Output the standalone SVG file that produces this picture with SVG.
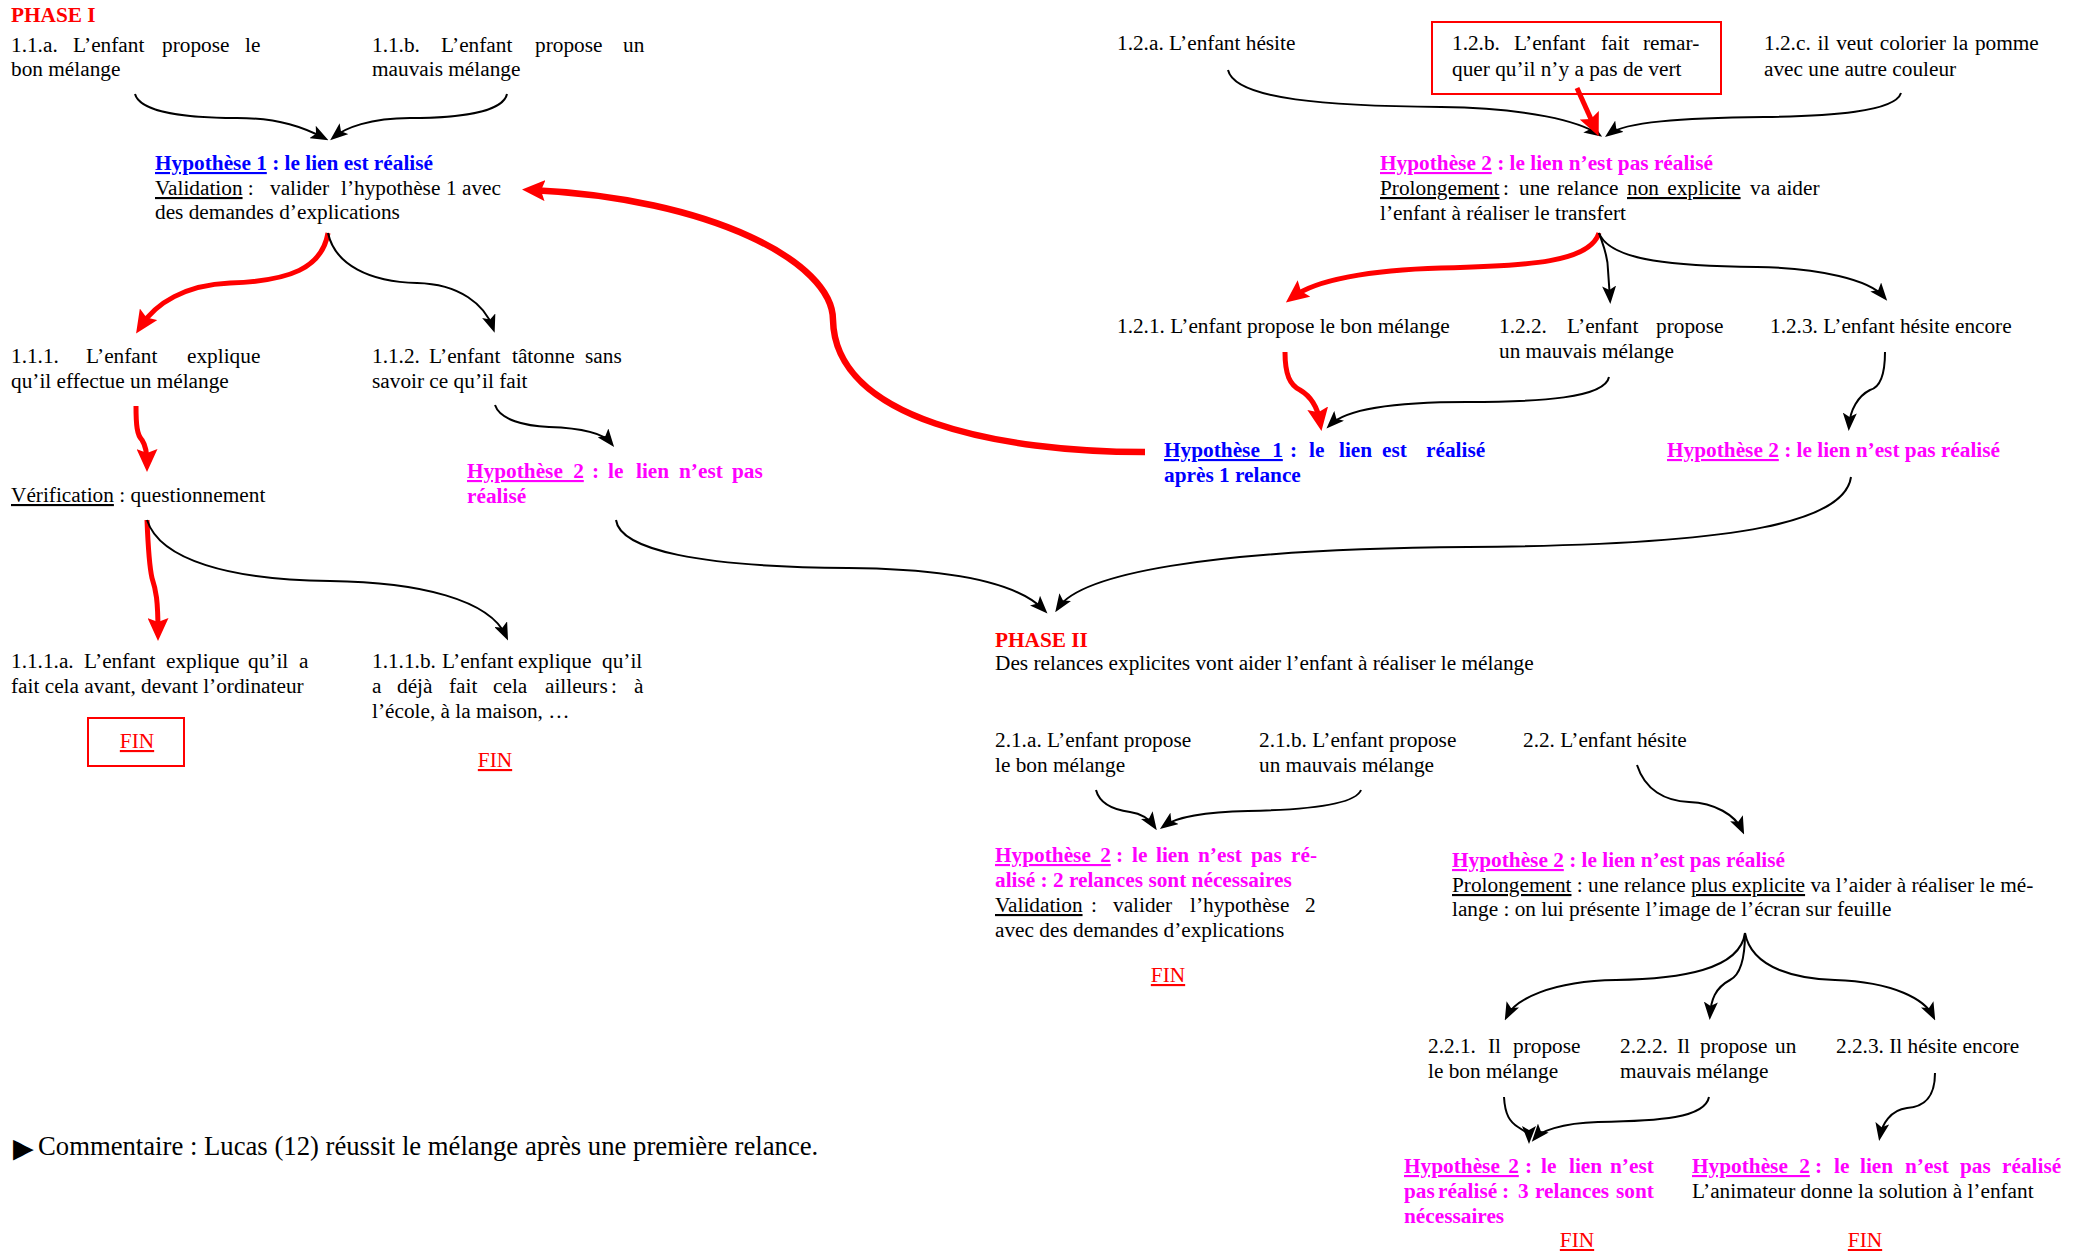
<svg xmlns="http://www.w3.org/2000/svg" width="2092" height="1251" viewBox="0 0 2092 1251">
<style>
.t{font-family:"Liberation Serif","Times New Roman",serif;font-size:21.3px;fill:#000}
.b{font-weight:bold}
.red{fill:#f00}.blue{fill:#00f}.mag{fill:#f0f}
.u{text-decoration:underline}
.fin{fill:#f00;text-decoration:underline;text-anchor:middle}
.box{fill:none;stroke:#f00;stroke-width:2}
.c{fill:none;stroke:#000;stroke-width:2;marker-end:url(#ab)}
.r{fill:none;stroke:#f00;stroke-width:5;marker-end:url(#ar)}
.rb{fill:none;stroke:#f00;stroke-width:6.5;marker-end:url(#ar)}
</style>
<defs>
<marker id="ab" markerUnits="userSpaceOnUse" markerWidth="18" markerHeight="14" viewBox="0 0 18 14" refX="13" refY="7" orient="auto"><path d="M0,0 L18,7 L0,14 L4,7 z" fill="#000"/></marker>
<marker id="ar" markerUnits="userSpaceOnUse" markerWidth="23" markerHeight="21" viewBox="0 0 23 21" refX="14" refY="10.5" orient="auto"><path d="M0,0 L23,10.5 L0,21 L4,10.5 z" fill="#f00"/></marker>
</defs>
<rect width="2092" height="1251" fill="#fff"/>

<g id="connectors">
<path class="c" d="M135,94 C140,112 185,118 237,118 C280,118 305,128 324,138"/>
<path class="c" d="M507,94 C503,112 460,118 410,118 C370,118 345,128 334,137"/>
<path class="r" d="M328,233 C322,268 290,281 230,283 C185,285 156,303 141,326"/>
<path class="c" d="M328,233 C335,265 370,282 417,283 C460,284 485,305 493,328"/>
<path class="r" d="M136,406 C136,425 137,435 142,440 C146,446 147,452 147,463"/>
<path class="r" d="M147,520 C148,545 149,565 152,578 C156,590 158,600 158,632"/>
<path class="c" d="M147,520 C160,560 230,580 330,581 C420,582 490,600 506,636"/>
<path class="c" d="M495,405 C500,420 525,426 549,427 C580,428 603,433 611,443"/>
<path class="c" d="M616,520 C620,550 700,567 848,568 C960,569 1020,585 1044,610"/>
<path class="c" d="M1851,477 C1845,520 1750,545 1468,547 C1200,549 1080,575 1058,608"/>
<path class="rb" d="M1145,452 C1000,452 835,420 833,320 C833,262 710,198 531,190"/>
<path class="c" d="M1228,70 C1235,100 1330,106 1441,107 C1530,108 1580,122 1598,134"/>
<path class="c" d="M1901,93 C1895,112 1830,116 1764,117 C1680,118 1625,122 1609,134"/>
<path class="r" d="M1577,88 L1595,128"/>
<path class="r" d="M1599,233 C1590,262 1530,266 1441,268 C1370,270 1315,280 1293,297"/>
<path class="c" d="M1599,233 C1603,245 1608,255 1608,270 L1610,299"/>
<path class="c" d="M1599,233 C1610,262 1680,266 1757,267 C1820,268 1870,280 1884,297"/>
<path class="r" d="M1285,352 C1285,375 1290,385 1300,390 C1312,397 1318,410 1320,422"/>
<path class="c" d="M1609,377 C1605,398 1540,402 1467,402 C1390,402 1345,410 1330,425"/>
<path class="c" d="M1885,352 C1885,380 1878,388 1870,390 C1858,396 1850,410 1849,426"/>
<path class="c" d="M1096,790 C1100,805 1115,810 1130,812 C1143,814 1150,820 1154,826"/>
<path class="c" d="M1361,790 C1355,806 1300,810 1248,811 C1200,812 1175,818 1164,826"/>
<path class="c" d="M1637,765 C1645,790 1665,801 1689,802 C1715,803 1735,815 1742,830"/>
<path class="c" d="M1745,933 C1740,970 1680,979 1616,980 C1550,981 1515,1000 1507,1016"/>
<path class="c" d="M1745,933 C1745,960 1740,975 1730,980 C1715,988 1711,1000 1710,1015"/>
<path class="c" d="M1745,933 C1752,970 1800,979 1835,980 C1895,982 1925,1000 1933,1016"/>
<path class="c" d="M1504,1097 C1505,1115 1510,1122 1518,1127 C1526,1132 1529,1134 1529,1139"/>
<path class="c" d="M1709,1097 C1705,1118 1660,1121 1598,1122 C1560,1123 1540,1132 1535,1138"/>
<path class="c" d="M1935,1073 C1935,1100 1922,1107 1907,1108 C1890,1110 1882,1125 1880,1136"/>
</g>

<g id="n-phase1"><text class="t b red" x="11" y="22">PHASE I</text></g>

<g id="n-11a">
<text class="t" y="52"><tspan x="11">1.1.a.</tspan><tspan x="73">L’enfant</tspan><tspan x="162">propose</tspan><tspan x="245">le</tspan></text>
<text class="t" x="11" y="76">bon mélange</text>
</g>
<g id="n-11b">
<text class="t" y="52"><tspan x="372">1.1.b.</tspan><tspan x="441">L’enfant</tspan><tspan x="535">propose</tspan><tspan x="623">un</tspan></text>
<text class="t" x="372" y="76">mauvais mélange</text>
</g>

<g id="n-hyp1">
<text class="t b blue" x="155" y="170"><tspan class="u">Hypothèse 1</tspan> : le lien est réalisé</text>
<text class="t" y="195"><tspan x="155" class="u">Validation</tspan><tspan> :</tspan><tspan x="270">valider</tspan><tspan x="341">l’hypothèse</tspan><tspan x="446">1</tspan><tspan x="462">avec</tspan></text>
<text class="t" x="155" y="219">des demandes d’explications</text>
</g>

<g id="n-111">
<text class="t" y="363"><tspan x="11">1.1.1.</tspan><tspan x="86">L’enfant</tspan><tspan x="187">explique</tspan></text>
<text class="t" x="11" y="388">qu’il effectue un mélange</text>
</g>
<g id="n-112">
<text class="t" y="363"><tspan x="372">1.1.2.</tspan><tspan x="429">L’enfant</tspan><tspan x="512">tâtonne</tspan><tspan x="585">sans</tspan></text>
<text class="t" x="372" y="388">savoir ce qu’il fait</text>
</g>

<g id="n-verif"><text class="t" x="11" y="502"><tspan class="u">Vérification</tspan> : questionnement</text></g>

<g id="n-hyp2a">
<text class="t b mag" y="478"><tspan x="467" class="u" style="word-spacing:5px">Hypothèse 2</tspan><tspan x="592">:</tspan><tspan x="608">le</tspan><tspan x="636">lien</tspan><tspan x="679">n’est</tspan><tspan x="732">pas</tspan></text>
<text class="t b mag" x="467" y="503">réalisé</text>
</g>

<g id="n-111a">
<text class="t" y="668"><tspan x="11">1.1.1.a.</tspan><tspan x="84">L’enfant</tspan><tspan x="166">explique</tspan><tspan x="248">qu’il</tspan><tspan x="299">a</tspan></text>
<text class="t" x="11" y="693">fait cela avant, devant l’ordinateur</text>
<rect class="box" x="88" y="718" width="96" height="48"/>
<text class="t fin" x="137" y="748">FIN</text>
</g>
<g id="n-111b">
<text class="t" y="668"><tspan x="372">1.1.1.b.</tspan><tspan x="442">L’enfant</tspan><tspan x="518">explique</tspan><tspan x="602">qu’il</tspan></text>
<text class="t" y="693"><tspan x="372">a</tspan><tspan x="397">déjà</tspan><tspan x="449">fait</tspan><tspan x="493">cela</tspan><tspan x="545">ailleurs</tspan><tspan x="611">:</tspan><tspan x="634">à</tspan></text>
<text class="t" x="372" y="718">l’école, à la maison, …</text>
<text class="t fin" x="495" y="767">FIN</text>
</g>

<g id="n-12a"><text class="t" x="1117" y="50">1.2.a. L’enfant hésite</text></g>
<g id="n-12b">
<rect class="box" x="1432" y="22" width="289" height="72"/>
<text class="t" y="50"><tspan x="1452">1.2.b.</tspan><tspan x="1514">L’enfant</tspan><tspan x="1601">fait</tspan><tspan x="1643">remar-</tspan></text>
<text class="t" x="1452" y="76">quer qu’il n’y a pas de vert</text>
</g>
<g id="n-12c">
<text class="t" x="1764" y="50" style="word-spacing:1.5px">1.2.c. il veut colorier la pomme</text>
<text class="t" x="1764" y="76">avec une autre couleur</text>
</g>

<g id="n-hyp2b">
<text class="t b mag" x="1380" y="170"><tspan class="u">Hypothèse 2</tspan> : le lien n’est pas réalisé</text>
<text class="t" y="195"><tspan x="1380" class="u">Prolongement</tspan><tspan x="1503">:</tspan><tspan x="1519">une</tspan><tspan x="1557">relance</tspan><tspan x="1627" class="u" style="word-spacing:3px">non explicite</tspan><tspan x="1750">va</tspan><tspan x="1777">aider</tspan></text>
<text class="t" x="1380" y="220">l’enfant à réaliser le transfert</text>
</g>

<g id="n-121"><text class="t" x="1117" y="333">1.2.1. L’enfant propose le bon mélange</text></g>
<g id="n-122">
<text class="t" y="333"><tspan x="1499">1.2.2.</tspan><tspan x="1567">L’enfant</tspan><tspan x="1656">propose</tspan></text>
<text class="t" x="1499" y="358">un mauvais mélange</text>
</g>
<g id="n-123"><text class="t" x="1770" y="333">1.2.3. L’enfant hésite encore</text></g>

<g id="n-hyp1b">
<text class="t b blue" y="457"><tspan x="1164" class="u" style="word-spacing:7px">Hypothèse 1</tspan><tspan x="1290">:</tspan><tspan x="1309">le</tspan><tspan x="1339">lien</tspan><tspan x="1382">est</tspan><tspan x="1426">réalisé</tspan></text>
<text class="t b blue" x="1164" y="482">après 1 relance</text>
</g>
<g id="n-hyp2c"><text class="t b mag" x="1667" y="457"><tspan class="u">Hypothèse 2</tspan> : le lien n’est pas réalisé</text></g>

<g id="n-phase2">
<text class="t b red" x="995" y="647">PHASE II</text>
<text class="t" x="995" y="670">Des relances explicites vont aider l’enfant à réaliser le mélange</text>
</g>

<g id="n-21a">
<text class="t" x="995" y="747">2.1.a. L’enfant propose</text>
<text class="t" x="995" y="772">le bon mélange</text>
</g>
<g id="n-21b">
<text class="t" x="1259" y="747">2.1.b. L’enfant propose</text>
<text class="t" x="1259" y="772">un mauvais mélange</text>
</g>
<g id="n-22"><text class="t" x="1523" y="747">2.2. L’enfant hésite</text></g>

<g id="n-hyp2d">
<text class="t b mag" y="862"><tspan x="995" class="u" style="word-spacing:4px">Hypothèse 2</tspan><tspan x="1116">:</tspan><tspan x="1132">le</tspan><tspan x="1156">lien</tspan><tspan x="1198">n’est</tspan><tspan x="1251">pas</tspan><tspan x="1291">ré-</tspan></text>
<text class="t b mag" x="995" y="887">alisé : 2 relances sont nécessaires</text>
<text class="t" y="912"><tspan x="995" class="u">Validation</tspan><tspan x="1091">:</tspan><tspan x="1113">valider</tspan><tspan x="1190">l’hypothèse</tspan><tspan x="1305">2</tspan></text>
<text class="t" x="995" y="937">avec des demandes d’explications</text>
<text class="t fin" x="1168" y="982">FIN</text>
</g>

<g id="n-hyp2e">
<text class="t b mag" x="1452" y="867"><tspan class="u">Hypothèse 2</tspan> : le lien n’est pas réalisé</text>
<text class="t" x="1452" y="892"><tspan class="u">Prolongement</tspan> : une relance <tspan class="u">plus explicite</tspan> va l’aider à réaliser le mé-</text>
<text class="t" x="1452" y="916">lange : on lui présente l’image de l’écran sur feuille</text>
</g>

<g id="n-221">
<text class="t" y="1053"><tspan x="1428">2.2.1.</tspan><tspan x="1488">Il</tspan><tspan x="1513">propose</tspan></text>
<text class="t" x="1428" y="1078">le bon mélange</text>
</g>
<g id="n-222">
<text class="t" y="1053"><tspan x="1620">2.2.2.</tspan><tspan x="1677">Il</tspan><tspan x="1700">propose</tspan><tspan x="1775">un</tspan></text>
<text class="t" x="1620" y="1078">mauvais mélange</text>
</g>
<g id="n-223"><text class="t" x="1836" y="1053">2.2.3. Il hésite encore</text></g>

<g id="n-hyp2f">
<text class="t b mag" y="1173"><tspan x="1404" class="u" style="word-spacing:3px">Hypothèse 2</tspan><tspan x="1525">:</tspan><tspan x="1541">le</tspan><tspan x="1569">lien</tspan><tspan x="1610">n’est</tspan></text>
<text class="t b mag" y="1198"><tspan x="1404">pas</tspan><tspan x="1438">réalisé</tspan><tspan x="1502">:</tspan><tspan x="1518">3</tspan><tspan x="1535">relances</tspan><tspan x="1616">sont</tspan></text>
<text class="t b mag" x="1404" y="1223">nécessaires</text>
<text class="t fin" x="1577" y="1247">FIN</text>
</g>
<g id="n-hyp2g">
<text class="t b mag" y="1173"><tspan x="1692" class="u" style="word-spacing:6px">Hypothèse 2</tspan><tspan x="1815">:</tspan><tspan x="1834">le</tspan><tspan x="1860">lien</tspan><tspan x="1905">n’est</tspan><tspan x="1960">pas</tspan><tspan x="2002">réalisé</tspan></text>
<text class="t" x="1692" y="1198">L’animateur donne la solution à l’enfant</text>
<text class="t fin" x="1865" y="1247">FIN</text>
</g>

<g id="n-comment">
<text transform="translate(13,1161) scale(1.35,2.1)" style="font-family:'DejaVu Sans',sans-serif;font-size:20px">►</text>
<text x="38" y="1155" style="font-family:'Liberation Serif','Times New Roman',serif;font-size:26.7px">Commentaire : Lucas (12) réussit le mélange après une première relance.</text>
</g>
</svg>
